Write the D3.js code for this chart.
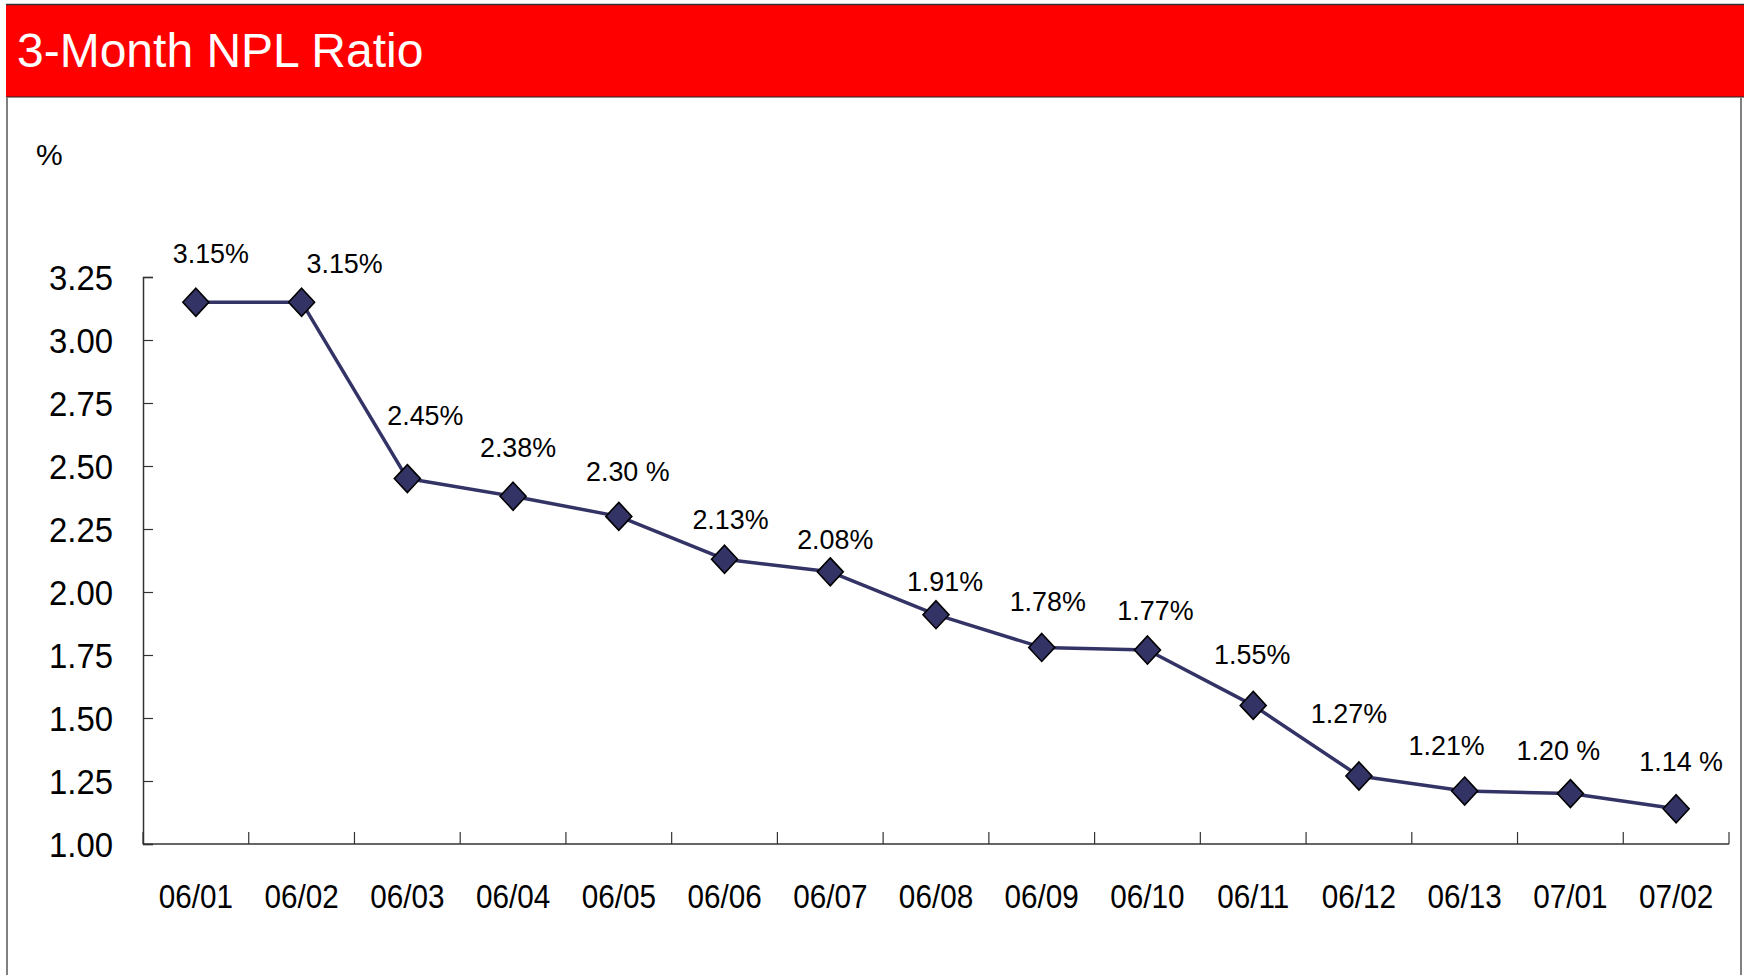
<!DOCTYPE html>
<html>
<head>
<meta charset="utf-8">
<script src="https://cdn.jsdelivr.net/npm/d3@7"></script>
<style>
  html, body { margin: 0; padding: 0; background: #fff; }
  svg { display: block; }
  text { font-family: "Liberation Sans", Arial, sans-serif; }
</style>
</head>
<body>
<svg id="chart" width="1744" height="975"></svg>
<script>
// ---- data ----
const titleText = "3-Month NPL Ratio";
const unitLabel = "%";
const categories = ["06/01","06/02","06/03","06/04","06/05","06/06","06/07","06/08","06/09","06/10","06/11","06/12","06/13","07/01","07/02"];
const values = [3.15, 3.15, 2.45, 2.38, 2.30, 2.13, 2.08, 1.91, 1.78, 1.77, 1.55, 1.27, 1.21, 1.20, 1.14];
const valueLabels = ["3.15%","3.15%","2.45%","2.38%","2.30 %","2.13%","2.08%","1.91%","1.78%","1.77%","1.55%","1.27%","1.21%","1.20 %","1.14 %"];
const yTicks = [1.00, 1.25, 1.50, 1.75, 2.00, 2.25, 2.50, 2.75, 3.00, 3.25];

// label placement nudges (layout, px relative to each marker)
const labelDx = [15, 43, 18, 5, 9, 6, 5, 9, 6, 8, -1, -10, -18, -12, 5];
const labelDy = [-39, -29, -54, -39, -35, -30, -23, -24, -36, -30, -41, -53, -36, -34, -38];

// ---- layout ----
const W = 1744, H = 975;
const plot = { left: 143, right: 1729, top: 277, bottom: 844 };
const lineColor = "#333366";

const svg = d3.select("#chart");

// frame
svg.append("rect").attr("x", 0).attr("y", 0).attr("width", W).attr("height", H).attr("fill", "#fff");
svg.append("rect").attr("x", 6).attr("y", 4.5).attr("width", W - 6).attr("height", 92.5)
  .attr("fill", "#ff0000").attr("stroke", "none");
svg.append("line").attr("x1", 6).attr("x2", W).attr("y1", 4.5).attr("y2", 4.5).attr("stroke", "#333").attr("stroke-width", 1.5);
svg.append("line").attr("x1", 6).attr("x2", W).attr("y1", 97).attr("y2", 97).attr("stroke", "#222").attr("stroke-width", 1.2);
svg.append("line").attr("x1", 7).attr("x2", 7).attr("y1", 97).attr("y2", H).attr("stroke", "#808080").attr("stroke-width", 2);
svg.append("line").attr("x1", 1741).attr("x2", 1741).attr("y1", 97).attr("y2", H).attr("stroke", "#808080").attr("stroke-width", 2);

function sText(g, x, y, str, size, sx, anchor, fill) {
  return g.append("text")
    .attr("transform", `translate(${x},${y}) scale(${sx},1)`)
    .attr("text-anchor", anchor)
    .attr("font-size", size)
    .attr("fill", fill || "#000")
    .text(str);
}

// title
sText(svg, 17, 67, titleText, 48, 1.0, "start", "#fff");
// unit label
sText(svg, 36, 165, unitLabel, 30, 1.0, "start", "#000");

// scales
const x = d3.scaleBand().domain(categories).range([plot.left, plot.right]).padding(0);
const y = d3.scaleLinear().domain([1, 3.25]).range([plot.bottom, plot.top]);
const cx = c => x(c) + x.bandwidth() / 2;

// y axis
const yAxis = d3.axisLeft(y).tickValues(yTicks).tickSize(-10).tickPadding(30).tickFormat(d3.format(".2f"));
const gy = svg.append("g").attr("transform", `translate(${plot.left},0)`).call(yAxis);
gy.select(".domain").attr("stroke", "#333").attr("stroke-width", 1.5);
gy.selectAll(".tick line").attr("stroke", "#333").attr("stroke-width", 1.2);
gy.selectAll(".tick text").each(function(d) {
  const t = d3.select(this);
  t.attr("x", null).attr("dy", null)
   .attr("transform", `translate(-30,12.5) scale(0.94,1)`)
   .attr("font-size", 35).attr("font-family", "Liberation Sans, Arial, sans-serif").attr("fill", "#000");
});

// x axis
const gx = svg.append("g");
gx.append("line").attr("x1", plot.left).attr("x2", plot.right).attr("y1", plot.bottom).attr("y2", plot.bottom)
  .attr("stroke", "#333").attr("stroke-width", 1.5);
const bounds = categories.map(c => x(c)).concat([x.range()[1]]);
gx.selectAll("line.xt").data(bounds).join("line").attr("class", "xt")
  .attr("x1", d => d).attr("x2", d => d).attr("y1", plot.bottom).attr("y2", plot.bottom - 12)
  .attr("stroke", "#333").attr("stroke-width", 1.2);
categories.forEach(c => sText(gx, cx(c), 908, c, 33, 0.9, "middle", "#000"));

// line
const pts = categories.map((c, i) => ({ c, v: values[i], lab: valueLabels[i], i }));
svg.append("path").datum(pts)
  .attr("fill", "none").attr("stroke", lineColor).attr("stroke-width", 3.5).attr("stroke-linejoin", "round")
  .attr("d", d3.line().x(d => cx(d.c)).y(d => y(d.v)));

// markers
svg.selectAll("path.mk").data(pts).join("path").attr("class", "mk")
  .attr("transform", d => `translate(${cx(d.c)},${y(d.v)})`)
  .attr("d", "M0,-14 L13,0 L0,14 L-13,0 Z")
  .attr("fill", lineColor).attr("stroke", "#000").attr("stroke-width", 1.6);

// value labels
pts.forEach(d => sText(svg, cx(d.c) + labelDx[d.i], y(d.v) + labelDy[d.i], d.lab, 28, 0.96, "middle", "#000"));
</script>
</body>
</html>
